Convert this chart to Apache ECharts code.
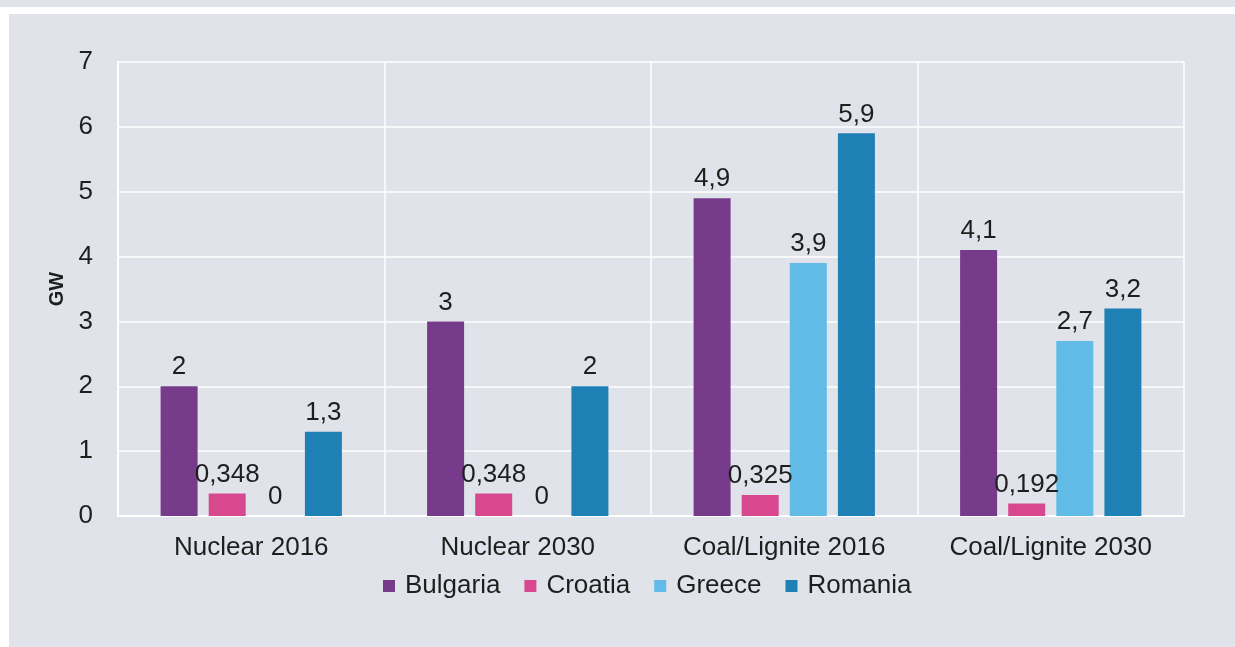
<!DOCTYPE html>
<html>
	<head>
		<meta charset="UTF-8">
		<title></title>
		<style>
			body { margin: 0; background: #fff; width: 1235px; height: 647px; overflow: hidden; position: relative; }
			#strip { position: absolute; left: 0; top: 0; width: 1235px; height: 7px; background: #e1e3ea; }
			#main { position: absolute; left: 9px; top: 14px; width: 1226px; height: 633px; background: #e1e3ea; }
		</style>
	</head>
	<body>
		<div id="strip"></div>
		<!-- chart panel -->
		<div id="main"></div>
	</body>
	<script src="https://cdn.jsdelivr.net/npm/echarts/dist/echarts.min.js"></script>
	<script>
		// data
		var categories = ['Nuclear 2016', 'Nuclear 2030', 'Coal/Lignite 2016', 'Coal/Lignite 2030'];
		var bulgaria = [2, 3, 4.9, 4.1];
		var croatia = [0.348, 0.348, 0.325, 0.192];
		var greece = [0, 0, 3.9, 2.7];
		var romania = [1.3, 2, 5.9, 3.2];
		var yTicks = [0, 1, 2, 3, 4, 5, 6, 7];

		var font = "'Liberation Sans', Arial, sans-serif";

		function makeSeries(name, data, color) {
			return {
				name: name,
				type: 'bar',
				data: data,
				barWidth: 37,
				barGap: '30%',
				itemStyle: { color: color },
				label: {
					show: true,
					position: 'top',
					distance: 6,
					fontFamily: font,
					fontSize: 26,
					color: '#1e1e1e',
					formatter: function (p) {
						return String(p.value).replace('.', ',');
					}
				}
			};
		}

		var myChart = echarts.init(document.getElementById('main'));

		var option = {
			backgroundColor: '#e1e3ea',
			animation: false,
			textStyle: { fontFamily: font },
			grid: {
				left: 109,
				right: 51,
				top: 48,
				bottom: 131,
				containLabel: false
			},
			legend: {
				left: 369,
				top: 554,
				itemWidth: 12,
				itemHeight: 12,
				itemGap: 24,
				icon: 'rect',
				data: ['Bulgaria', 'Croatia', 'Greece', 'Romania'],
				textStyle: {
					fontFamily: font,
					fontSize: 26,
					color: '#1e1e1e',
					padding: [0, 0, 0, 5]
				}
			},
			xAxis: {
				type: 'category',
				data: categories,
				axisLine: { show: true, lineStyle: { color: '#ffffff', width: 2 } },
				axisTick: { show: false },
				splitLine: { show: true, lineStyle: { color: '#ffffff', width: 1.5 } },
				axisLabel: {
					margin: 19,
					fontFamily: font,
					fontSize: 26,
					color: '#1e1e1e'
				}
			},
			yAxis: {
				type: 'value',
				min: yTicks[0],
				max: yTicks[yTicks.length - 1],
				interval: 1,
				name: 'GW',
				nameLocation: 'middle',
				nameGap: 50,
				nameRotate: 90,
				nameTextStyle: {
					fontFamily: font,
					fontSize: 20,
					fontWeight: 'bold',
					color: '#1e1e1e'
				},
				axisLine: { show: true, lineStyle: { color: '#ffffff', width: 2 } },
				axisTick: { show: false },
				splitLine: { show: true, lineStyle: { color: '#ffffff', width: 1.5 } },
				axisLabel: {
					margin: 25,
					fontFamily: font,
					fontSize: 26,
					color: '#1e1e1e'
				}
			},
			series: [
				makeSeries('Bulgaria', bulgaria, '#763b8b'),
				makeSeries('Croatia', croatia, '#d8488f'),
				makeSeries('Greece', greece, '#62bbe6'),
				makeSeries('Romania', romania, '#1f80b5')
			]
		};

		myChart.setOption(option);
	</script>
</html>
